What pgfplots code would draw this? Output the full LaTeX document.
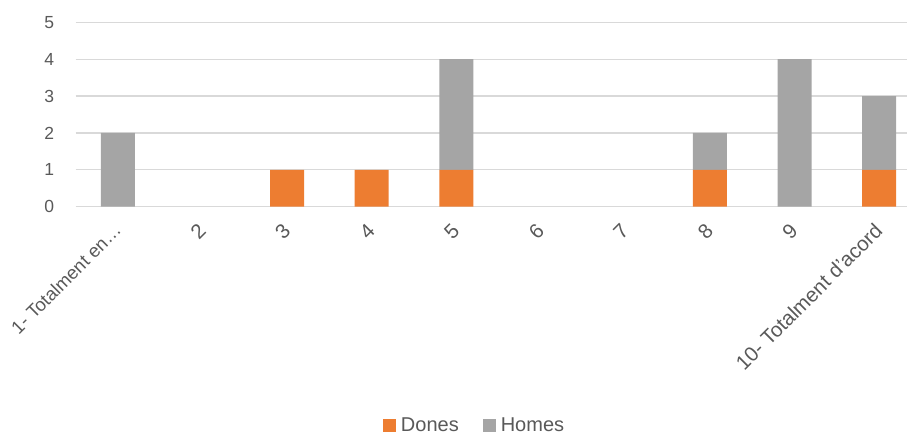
\documentclass[border=0pt]{standalone}
\usepackage{fontspec}
\setmainfont{Liberation Sans}
\usepackage{pgfplots}
\pgfplotsset{compat=1.18}
\definecolor{cdones}{HTML}{ED7D31}
\definecolor{chomes}{HTML}{A5A5A5}
\definecolor{cgrid}{HTML}{D9D9D9}
\definecolor{ctext}{HTML}{595959}
\begin{document}
\begin{tikzpicture}[x=1pt,y=1pt]
\path[use as bounding box] (0,0) rectangle (907,434);
\begin{axis}[
  at={(75.7pt,227.3pt)}, anchor=south west,
  scale only axis, width=831.3pt, height=184.4pt,
  ybar stacked, bar width=34pt,
  xmin=0.5, xmax=10.33, ymin=0, ymax=5,
  ytick={0,1,2,3,4,5}, xtick={1,2,3,4,5,6,7,8,9,10},
  xticklabels={{\fontsize{18.5}{21}\selectfont 1- Totalment en…},2,3,4,5,6,7,8,9,10- Totalment d'acord},
  axis line style={draw=none},
  major tick length=0pt,
  ymajorgrids, grid style={cgrid, line width=1.3pt},
  clip=false,
  /pgf/number format/assume math mode=true,
  tick label style={text=ctext},
  yticklabel style={font=\fontsize{17.5}{20}\selectfont, xshift=-18pt},
  xticklabel style={font=\fontsize{20.5}{23}\selectfont, xshift=2pt, yshift=-18pt, rotate=45, anchor=east},
  legend columns=2,
  legend style={at={(0.4798,-1.184)}, anchor=center, draw=none,
    font=\fontsize{20}{23}\selectfont, text=ctext,
    /tikz/every odd column/.append style={column sep=3pt},
    /tikz/every even column/.append style={column sep=22pt}},
  legend image code/.code={\fill[#1] (0pt,-6.5pt) rectangle (13pt,6.5pt);},
]
\addplot[fill=cdones, draw=none] coordinates {(1,0)(2,0)(3,1)(4,1)(5,1)(6,0)(7,0)(8,1)(9,0)(10,1)};
\addplot[fill=chomes, draw=none] coordinates {(1,2)(2,0)(3,0)(4,0)(5,3)(6,0)(7,0)(8,1)(9,4)(10,2)};
\legend{Dones,Homes}
\end{axis}
\end{tikzpicture}
\end{document}
